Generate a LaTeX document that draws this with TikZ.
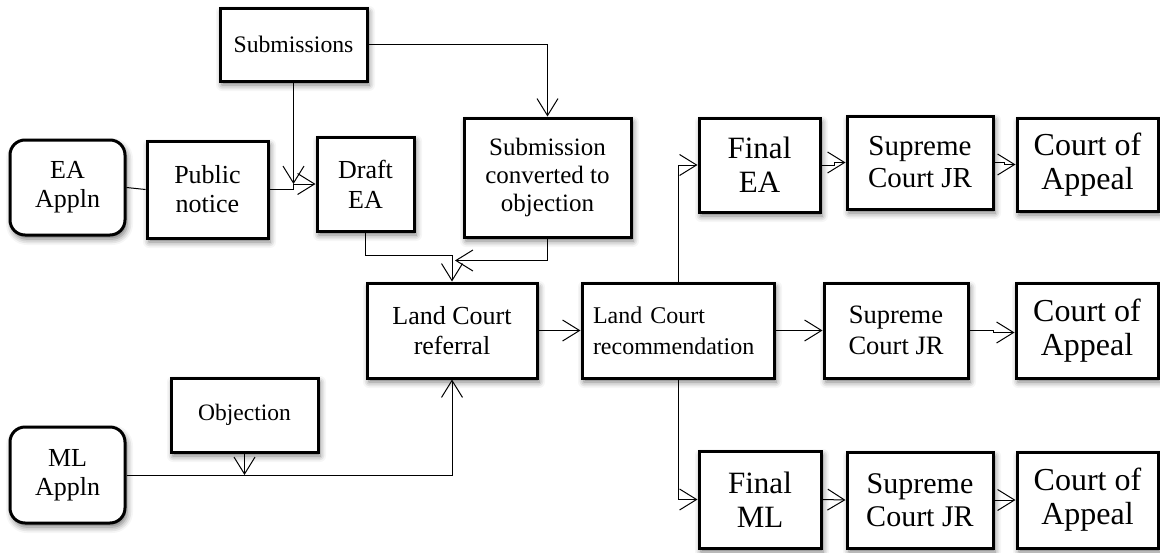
\documentclass[tikz,border=0pt]{standalone}
\usepackage{fontspec}
\setmainfont{Liberation Serif}
\usetikzlibrary{arrows.meta,shadows.blur,calc}
\tikzset{
  box/.style={draw, line width=3pt, fill=white, inner sep=0pt, align=center,
    blur shadow={shadow xshift=2pt, shadow yshift=-4pt, shadow blur radius=6pt, shadow opacity=55}},
  rbox/.style={box, rounded corners=15pt},
  conn/.style={line width=1pt, -{Straight Barb[length=17pt,width=21pt,line width=1pt]}},
  plainline/.style={line width=1pt},
  fs/.style n args={2}{font=\fontsize{#1}{#2}\selectfont}
}
\begin{document}
\begin{tikzpicture}[x=1pt,y=-1pt]
\useasboundingbox (0,0) rectangle (1160,552);
% nodes
\node[box, fs={23.7}{27}, minimum width=147pt, minimum height=73pt] (sub) at (293.5,44.5) {Submissions};
\node[rbox, fs={26}{29}, minimum width=115pt, minimum height=95pt] (eaapp) at (67.5,187.5) {EA\\Appln};
\node[box, fs={26}{29}, minimum width=121pt, minimum height=97pt] (pub) at (207.5,189.5) {Public\\notice};
\node[box, fs={26}{30}, minimum width=97pt, minimum height=94pt] (draft) at (365.5,184) {Draft\\EA};
\node[box, fs={25}{28}, minimum width=167pt, minimum height=119pt] (subconv) at (547.5,177.5) {Submission\\converted to\\objection};
\node[box, fs={26}{30}, minimum width=170pt, minimum height=95pt] (ref) at (452,330.5) {Land Court\\referral};
\node[box, fs={23.5}{27}, minimum width=147pt, minimum height=74pt] (obj) at (244.5,415) {Objection};
\node[rbox, fs={26}{29}, minimum width=115pt, minimum height=96pt] (mlapp) at (67.5,475) {ML\\Appln};
\node[box, fs={24}{31}, minimum width=192pt, minimum height=95pt, align=left, text width=170pt] (rec) at (678,330.5) {Land Court\\recommendation};
\node[box, fs={31}{34}, minimum width=121pt, minimum height=94pt] (fea) at (759.5,165) {Final\\EA};
\node[box, fs={29}{32}, minimum width=146pt, minimum height=93pt] (sc1) at (920,162.5) {Supreme\\Court JR};
\node[box, fs={32}{34}, minimum width=141pt, minimum height=93pt] (ca1) at (1087.5,164.5) {Court of\\Appeal};
\node[box, fs={26.5}{31}, minimum width=144pt, minimum height=95pt] (sc2) at (896,330.5) {Supreme\\Court JR};
\node[box, fs={32}{34}, minimum width=142pt, minimum height=95pt] (ca2) at (1087,330.5) {Court of\\Appeal};
\node[box, fs={31}{34}, minimum width=122pt, minimum height=97pt] (fml) at (760,499.5) {Final\\ML};
\node[box, fs={30}{33}, minimum width=146pt, minimum height=96pt] (sc3) at (920,500) {Supreme\\Court JR};
\node[box, fs={32}{34}, minimum width=141pt, minimum height=96pt] (ca3) at (1087.5,500) {Court of\\Appeal};
% helper coordinates
\coordinate (j1) at (sub.south |- draft.west);
\coordinate (j2) at ($(ref.north)+(0,-26)$);
\coordinate (j3) at ($(ref.north)+(3,-21)$);
% connectors
\draw[plainline] (eaapp.east) -- (pub.west);
\draw[conn] (pub.east) -| (j1) -- (draft.west);
\draw[conn] (sub.south) -- (j1);
\draw[conn] (sub.east) -| (subconv.north);
\draw[conn] (draft.south) |- (j2) -- (ref.north);
\draw[conn] (subconv.south) |- (j3);
\draw[conn] (ref.east) -- (rec.west);
\draw[conn] (rec.north) |- (fea.west);
\draw[conn] (rec.east) -- (sc2.west);
\draw[conn] (rec.south) |- (fml.west);
\draw[conn] (fea.east) -- ++(13,0) |- (sc1.west);
\draw[conn] (sc1.east) -- ++(10,0) |- (ca1.west);
\draw[conn] (sc2.east) -- ++(24,0) |- ($(ca2.west)+(0,2)$);
\draw[conn] (fml.east) -- (sc3.west);
\draw[conn] (sc3.east) -- (ca3.west);
\draw[conn] (mlapp.east) -| (ref.south);
\draw[conn] (obj.south) -- (obj.south |- mlapp.east);
\end{tikzpicture}
\end{document}
